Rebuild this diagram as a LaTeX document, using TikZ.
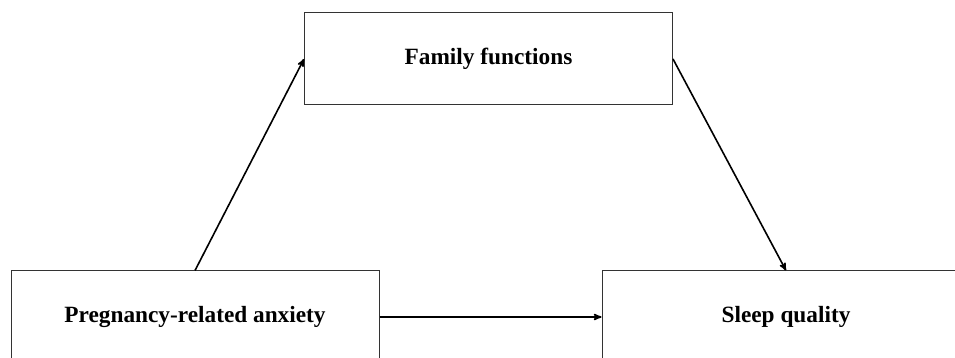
\documentclass[tikz,border=0pt]{standalone}
\usepackage{fontspec}
\setmainfont{Liberation Serif}
\usepackage{tikz}
\usetikzlibrary{arrows, positioning}
\tikzset{varbox/.style={draw=black!80, line width=1pt, minimum width=368pt, minimum height=92pt, font=\fontsize{23.3}{28}\selectfont\bfseries}}

\begin{document}
\begin{tikzpicture}[>=stealth', x=1pt, y=1pt, every path/.style={line width=1.6pt}]
\useasboundingbox (0,0) rectangle (955,358);
\node[varbox] (anx) at (195,41) {Pregnancy-related anxiety};
\node[varbox, right=222pt of anx] (sleep) {Sleep quality};
\node[varbox] (fam) at (488.5,299) {Family functions};
\draw [->] (anx.north) -- (fam.west);
\draw [->] (fam.east) -- (sleep.north);
\draw [->] (anx.east) -- (sleep.west);
\end{tikzpicture}
\end{document}
